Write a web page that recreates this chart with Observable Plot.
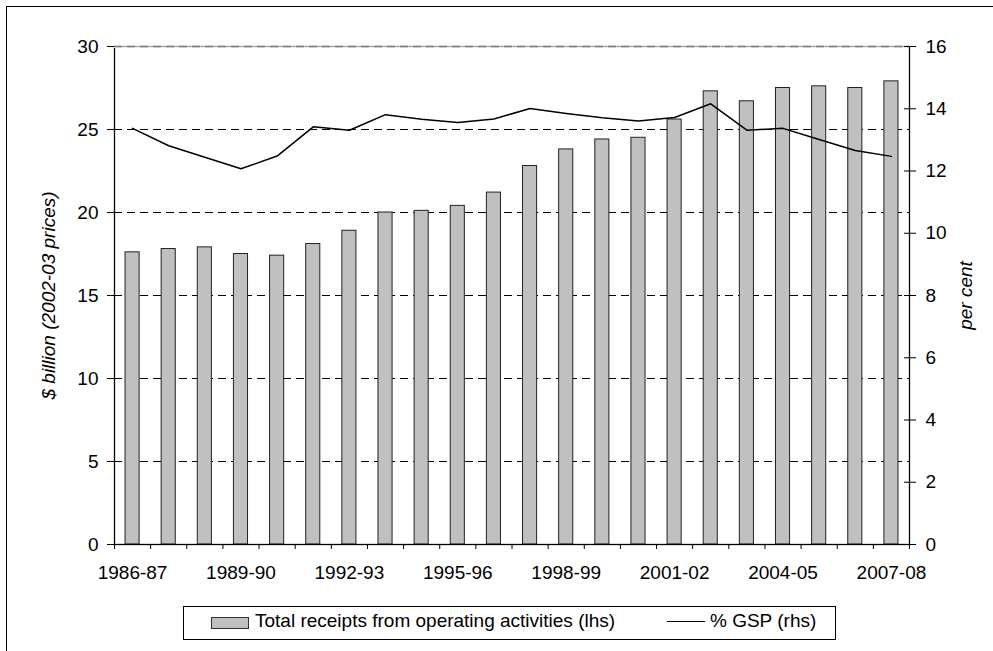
<!DOCTYPE html>
<html>
<head>
<meta charset="utf-8">
<script src="https://cdn.jsdelivr.net/npm/d3@7"></script>
<script src="https://cdn.jsdelivr.net/npm/@observablehq/plot@0.6"></script>
<style>
  body { margin: 0; background: #fff; }
  #wrap { position: relative; width: 993px; height: 651px; overflow: hidden;
          font-family: "Liberation Sans", Arial, sans-serif; color: #000; }
  #wrap svg { position: absolute; left: 0; top: 0; }
  #border { position: absolute; left: 6px; top: 6px; width: 1200px; height: 900px;
            border-top: 1.5px solid #000; border-left: 1.5px solid #000; }
  #legend { position: absolute; left: 183px; top: 606px; width: 651px; height: 32px;
            border: 1px solid #000; background: #fff; font-size: 19px; }
  #legend .sw { position: absolute; left: 27px; top: 10px; width: 36px; height: 10px;
                background: #c0c0c0; border: 1px solid #333; }
  #legend .ln { position: absolute; left: 483px; top: 14px; width: 38px; height: 0;
                border-top: 1.5px solid #000; }
  #legend .t { position: absolute; top: 4px; line-height: 19px; white-space: pre; }
</style>
</head>
<body>
<div id="wrap"></div>
<script>
// Financial years on the horizontal axis
const years = ["1986-87","1987-88","1988-89","1989-90","1990-91","1991-92","1992-93",
  "1993-94","1994-95","1995-96","1996-97","1997-98","1998-99","1999-00","2000-01",
  "2001-02","2002-03","2003-04","2004-05","2005-06","2006-07","2007-08"];

// Total receipts from operating activities, $ billion (2002-03 prices), left axis
const receipts = [17.6, 17.8, 17.9, 17.5, 17.4, 18.1, 18.9, 20.0, 20.1, 20.4, 21.2,
  22.8, 23.8, 24.4, 24.5, 25.6, 27.3, 26.7, 27.5, 27.6, 27.5, 27.9];

// Receipts as a share of GSP, per cent, right axis
const gsp = [13.37, 12.81, 12.44, 12.07, 12.48, 13.42, 13.31, 13.81, 13.66, 13.56, 13.67,
  14.01, 13.85, 13.71, 13.61, 13.72, 14.16, 13.31, 13.37, 13.01, 12.66, 12.47];

// Axis ticks
const xLabels = ["1986-87","1989-90","1992-93","1995-96","1998-99","2001-02","2004-05","2007-08"];
const leftTicks = [0, 5, 10, 15, 20, 25, 30];
const rightTicks = [0, 2, 4, 6, 8, 10, 12, 14, 16];
const gridTicks = [5, 10, 15, 20, 25];
const leftMax = 30, rightMax = 16;

const labelLhs = "$ billion (2002-03 prices)";
const labelRhs = "per cent";
const legendBars = "Total receipts from operating activities (lhs)";
const legendLine = "% GSP (rhs)";

// Right-axis values are drawn on the left-axis scale
const k = leftMax / rightMax;
const rows = years.map((year, i) => ({year, i, receipts: receipts[i], gsp: gsp[i]}));
const font = "'Liberation Sans', Arial, sans-serif";

const chart = Plot.plot({
  width: 993,
  height: 651,
  marginLeft: 114,
  marginRight: 84,
  marginTop: 46,
  marginBottom: 107,
  style: {fontFamily: font, fontSize: "19px", color: "#000", background: "transparent"},
  x: {type: "linear", domain: [0, years.length], axis: null},
  y: {domain: [0, leftMax], axis: null},
  marks: [
    // dashed horizontal gridlines
    Plot.ruleY(gridTicks, {stroke: "#000", strokeWidth: 1, strokeDasharray: "8,5"}),
    // bars
    Plot.rect(rows, {x1: d => d.i + 0.305, x2: d => d.i + 0.695, y1: 0, y2: "receipts",
      fill: "#c0c0c0", stroke: "#222", strokeWidth: 1}),
    // plot area edges
    Plot.frame({stroke: "#000", strokeWidth: 1.3}),
    Plot.ruleY([leftMax], {stroke: "#fff", strokeWidth: 3}),
    Plot.ruleY([leftMax], {stroke: "#a9a9a9", strokeWidth: 1.5}),
    Plot.ruleY([leftMax], {stroke: "#7d7d7d", strokeWidth: 1.5, strokeDasharray: "8,5"}),
    // % GSP line
    Plot.line(rows, {x: d => d.i + 0.5, y: d => d.gsp * k, stroke: "#000", strokeWidth: 1.5}),
    // x axis: tick marks between categories, labels under every third year
    Plot.axisX({ticks: d3.range(years.length + 1), tickSize: 5, tickFormat: () => "", label: null}),
    Plot.axisX({ticks: xLabels.map(l => years.indexOf(l) + 0.5), tickSize: 0, tickPadding: 21,
      tickFormat: v => years[Math.round(v - 0.5)], label: null}),
    // left axis
    Plot.axisY({anchor: "left", ticks: leftTicks, tickSize: 7, tickPadding: 9, label: null}),
    // right axis: ticks cross the axis line
    Plot.axisY({anchor: "right", ticks: rightTicks.map(v => v * k), tickSize: 12, dx: -6,
      tickFormat: () => "", label: null}),
    Plot.axisY({anchor: "right", ticks: rightTicks.map(v => v * k), tickSize: 0, tickPadding: 16,
      tickFormat: v => String(Math.round(v / k)), label: null}),
    // axis titles
    Plot.text([labelLhs], {frameAnchor: "left", dx: -66, rotate: -90, textAnchor: "middle",
      fontStyle: "italic", fontSize: 19, fill: "#000"}),
    Plot.text([labelRhs], {frameAnchor: "right", dx: 56, rotate: -90, textAnchor: "middle",
      fontStyle: "italic", fontSize: 19, fill: "#000"})
  ]
});

const wrap = document.getElementById("wrap");
wrap.appendChild(chart);

const border = document.createElement("div");
border.id = "border";
wrap.appendChild(border);

const legend = document.createElement("div");
legend.id = "legend";
legend.innerHTML =
  `<div class="sw"></div><span class="t" style="left:71px"></span>` +
  `<div class="ln"></div><span class="t" style="left:526px"></span>`;
const spans = legend.querySelectorAll(".t");
spans[0].textContent = legendBars;
spans[1].textContent = legendLine;
wrap.appendChild(legend);
</script>
</body>
</html>
